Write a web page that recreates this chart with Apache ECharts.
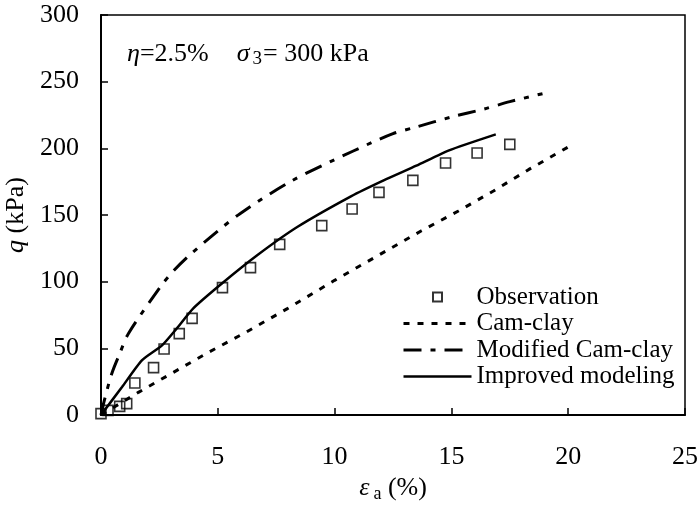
<!DOCTYPE html>
<html>
<head>
<meta charset="utf-8">
<script src="https://cdn.jsdelivr.net/npm/echarts@6/dist/echarts.min.js"></script>
<style>
html,body{margin:0;padding:0;background:#fff;}
#chart{width:699px;height:505px;}
</style>
</head>
<body>
<div id="chart"></div>
<script>
// ---- data ----
var seriesNames = ['Observation', 'Cam-clay', 'Modified Cam-clay', 'Improved modeling'];
var xTicks = [0, 5, 10, 15, 20, 25];
var yTicks = [0, 50, 100, 150, 200, 250, 300];

var obsX = [0, 0.3, 0.8, 1.1, 1.45, 2.25, 2.7, 3.35, 3.9, 5.2, 6.4, 7.65, 9.45, 10.75, 11.9, 13.35, 14.75, 16.1, 17.5];
var obsQ = [1, 3.5, 6.5, 8.5, 24, 35.5, 49.5, 61, 72.5, 95.5, 110.5, 128, 142, 154.5, 167, 176, 189, 196.5, 203];

var camX = [0, 1.6, 3.1, 4.6, 6.2, 8.0, 10, 12.2, 13.7, 15.3, 16.8, 18.3, 20];
var camQ = [0, 17, 32, 47, 62, 80, 101, 123, 138, 153, 168, 184, 201];

var modX = [0, 0.13, 0.46, 0.8, 1.17, 2.6, 3.1, 3.8, 5.0, 5.95, 8.1, 10.8, 12.5, 13.5, 15, 16.4, 17.5, 18.9];
var modQ = [0, 10, 31, 46, 61, 97.5, 108, 120, 138, 151, 175, 198, 211, 216, 223.5, 229.5, 235, 241];

var impX = [0, 0.9, 1.75, 2.6, 3.2, 3.95, 5.2, 6.7, 8.4, 10.7, 12.1, 13.5, 14.9, 16.9];
var impQ = [0, 21, 41, 52, 64, 80, 99, 120, 141, 164, 176, 187, 198.5, 210.5];

function pairs(xs, ys) { return xs.map(function (x, i) { return [x, ys[i]]; }); }

var FONT = 'Liberation Serif';
var chart = echarts.init(document.getElementById('chart'), null, {renderer: 'canvas'});

var hiddenSymbol = {color: 'rgba(0,0,0,0)', borderColor: 'rgba(0,0,0,0)', borderWidth: 0};
var camStyle = {color: '#000', width: 3, type: [6, 8]};
var modStyle = {color: '#000', width: 3, type: [18, 9, 5, 9]};
var impStyle = {color: '#000', width: 2.5, type: 'solid'};

var option = {
  animation: false,
  backgroundColor: '#fff',
  textStyle: {fontFamily: FONT, color: '#000'},
  grid: {left: 101, right: 14, top: 15, bottom: 90, outerBoundsMode: 'none', containLabel: false,
    show: true, borderColor: '#000', borderWidth: 1.5, backgroundColor: 'transparent'},
  title: {
    left: 122, top: 34,
    text: '{it|η}{n|=2.5%}{gap| }{it|σ}{sub|3}{n|= 300 kPa}',
    textStyle: {
      fontFamily: FONT, fontSize: 26, fontWeight: 'normal', color: '#000',
      rich: {
        it: {fontFamily: FONT, fontStyle: 'italic', fontSize: 26, lineHeight: 30, color: '#000'},
        n: {fontFamily: FONT, fontSize: 26, lineHeight: 30, color: '#000'},
        gap: {fontSize: 26, width: 28, lineHeight: 30},
        sub: {fontFamily: FONT, fontSize: 19, lineHeight: 20, verticalAlign: 'bottom', padding: [0, 1, 0, 3], color: '#000'}
      }
    }
  },
  legend: {
    orient: 'vertical',
    left: 402, top: 284, padding: 0,
    itemWidth: 68, itemHeight: 9, itemGap: 0.5,
    symbolKeepAspect: true,
    data: [
      {name: seriesNames[0], icon: 'path://M0,0L10,0L10,10L0,10Z'},
      {name: seriesNames[1], itemStyle: hiddenSymbol, lineStyle: camStyle},
      {name: seriesNames[2], itemStyle: hiddenSymbol, lineStyle: modStyle},
      {name: seriesNames[3], itemStyle: hiddenSymbol, lineStyle: impStyle}
    ],
    textStyle: {fontFamily: FONT, fontSize: 25, color: '#000', lineHeight: 26}
  },
  xAxis: {
    type: 'value', min: 0, max: 25, interval: 5,
    name: '{it|ε}{sub|a}{n| (%)}',
    nameLocation: 'middle', nameGap: 56,
    nameTextStyle: {
      rich: {
        it: {fontFamily: FONT, fontStyle: 'italic', fontSize: 26, lineHeight: 30, color: '#000'},
        sub: {fontFamily: FONT, fontSize: 18, lineHeight: 20, verticalAlign: 'bottom', padding: [0, 0, 0, 4], color: '#000'},
        n: {fontFamily: FONT, fontSize: 26, lineHeight: 30, color: '#000'}
      }
    },
    axisLine: {show: true, onZero: false, lineStyle: {color: '#000', width: 2}},
    axisTick: {show: true, inside: true, length: 7, lineStyle: {color: '#000', width: 1.5}},
    axisLabel: {fontFamily: FONT, fontSize: 26, color: '#000', margin: 29,
      formatter: function (v) { return xTicks.indexOf(v) >= 0 ? String(v) : ''; }},
    splitLine: {show: false}
  },
  yAxis: {
    type: 'value', min: 0, max: 300, interval: 50,
    name: '{it|q}{n| (kPa)}',
    nameLocation: 'middle', nameGap: 63,
    nameTextStyle: {
      rich: {
        it: {fontFamily: FONT, fontStyle: 'italic', fontSize: 26, lineHeight: 30, color: '#000'},
        n: {fontFamily: FONT, fontSize: 26, lineHeight: 30, color: '#000'}
      }
    },
    axisLine: {show: true, onZero: false, lineStyle: {color: '#000', width: 2}},
    axisTick: {show: true, inside: true, length: 7, lineStyle: {color: '#000', width: 1.5}},
    axisLabel: {fontFamily: FONT, fontSize: 26, color: '#000', margin: 22,
      formatter: function (v) { return yTicks.indexOf(v) >= 0 ? String(v) : ''; }},
    splitLine: {show: false}
  },
  series: [
    {
      name: seriesNames[0], type: 'scatter', data: pairs(obsX, obsQ),
      symbol: 'rect', symbolSize: 10, z: 5,
      itemStyle: {color: 'rgba(255,255,255,0)', borderColor: '#000', borderWidth: 1.6}
    },
    {
      name: seriesNames[1], type: 'line', data: pairs(camX, camQ),
      symbol: 'none', showSymbol: false, smooth: false,
      lineStyle: camStyle, itemStyle: {color: '#000'}
    },
    {
      name: seriesNames[2], type: 'line', data: pairs(modX, modQ),
      symbol: 'none', showSymbol: false, smooth: 0.3,
      lineStyle: modStyle, itemStyle: {color: '#000'}
    },
    {
      name: seriesNames[3], type: 'line', data: pairs(impX, impQ),
      symbol: 'none', showSymbol: false, smooth: 0.2,
      lineStyle: impStyle, itemStyle: {color: '#000'}
    }
  ]
};
chart.setOption(option);
</script>
</body>
</html>
